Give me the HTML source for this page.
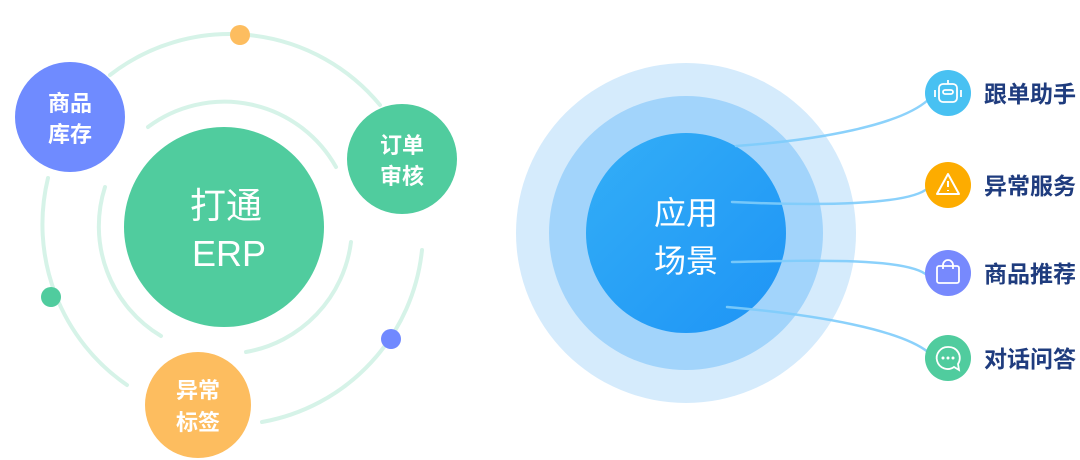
<!DOCTYPE html>
<html><head><meta charset="utf-8"><style>
html,body{margin:0;padding:0;background:#fff;width:1080px;height:460px;overflow:hidden}
svg{display:block}
text{font-family:"Liberation Sans","Noto Sans CJK SC",sans-serif}
</style></head><body>
<svg width="1080" height="460" viewBox="0 0 1080 460">
<defs>
<linearGradient id="g1" x1="0" y1="0" x2="1" y2="1"><stop offset="0" stop-color="#33aef7"/><stop offset="1" stop-color="#1e94f5"/></linearGradient>
</defs>
<g fill="none" stroke="#d6f3e8" stroke-width="4" stroke-linecap="round">
<path d="M110 75 A195 195 0 0 1 380 105"/>
<path d="M48 178 A195 195 0 0 0 127 385"/>
<path d="M422 250 A195 195 0 0 1 262 422"/>
<path d="M148 127 A128 128 0 0 1 336 167"/>
<path d="M105 187 A128 128 0 0 0 161 336"/>
<path d="M351 242 A128 128 0 0 1 246 352"/>
</g>
<circle cx="224" cy="227" r="100" fill="#50cc9e"/>
<text x="226" y="218" font-size="36" fill="#fff" text-anchor="middle">打通</text>
<text x="229" y="266" font-size="36" fill="#fff" text-anchor="middle">ERP</text>
<circle cx="70" cy="117" r="55" fill="#6f8bff"/>
<text x="70" y="111" font-size="22" font-weight="bold" fill="#fff" text-anchor="middle">商品</text>
<text x="70" y="142" font-size="22" font-weight="bold" fill="#fff" text-anchor="middle">库存</text>
<circle cx="402" cy="159" r="55" fill="#50cc9e"/>
<text x="402" y="153" font-size="22" font-weight="bold" fill="#fff" text-anchor="middle">订单</text>
<text x="402" y="184" font-size="22" font-weight="bold" fill="#fff" text-anchor="middle">审核</text>
<circle cx="198" cy="405" r="53" fill="#fdbd5f"/>
<text x="198" y="398" font-size="22" font-weight="bold" fill="#fff" text-anchor="middle">异常</text>
<text x="198" y="430" font-size="22" font-weight="bold" fill="#fff" text-anchor="middle">标签</text>
<circle cx="240" cy="35" r="10" fill="#fdbd5f"/>
<circle cx="51" cy="297" r="10" fill="#50cc9e"/>
<circle cx="391" cy="339" r="10" fill="#7089ff"/>

<circle cx="686" cy="233" r="170" fill="#d5ebfc"/>
<circle cx="686" cy="233" r="137" fill="#a2d4fb"/>
<circle cx="686" cy="233" r="100" fill="url(#g1)"/>
<text x="686" y="224" font-size="32" fill="#fff" text-anchor="middle">应用</text>
<text x="686" y="272" font-size="32" fill="#fff" text-anchor="middle">场景</text>
<g fill="none" stroke="#7fcdfb" stroke-width="2.5" stroke-linecap="round" opacity="0.9">
<path d="M736 146 C820 140 900 125 928 100"/>
<path d="M732 202 C820 206 910 205 928 188"/>
<path d="M732 262 C820 260 910 258 928 276"/>
<path d="M727 307 C820 315 900 330 928 352"/>
</g>
<circle cx="948" cy="93" r="23" fill="#48c1f2"/>
<g fill="none" stroke="#fff" stroke-width="1.8"><rect x="939" y="84" width="18" height="18" rx="4"/><rect x="943" y="90" width="10" height="4" rx="2"/><path d="M948 84v-4M935 90v7M961 90v7"/></g>
<circle cx="948" cy="185" r="23" fill="#fdac00"/>
<g fill="none" stroke="#fff" stroke-width="2" stroke-linejoin="round"><path d="M948 174 L959 194 L937 194 Z"/><path d="M948 181v6M948 190v1"/></g>
<circle cx="948" cy="273" r="23" fill="#7789fd"/>
<g fill="none" stroke="#fff" stroke-width="1.8"><rect x="937" y="266" width="22" height="17" rx="2"/><path d="M943 269v-4a5 5 0 0 1 10 0v4"/></g>
<circle cx="948" cy="358" r="23" fill="#50cc9e"/>
<g fill="none" stroke="#fff" stroke-width="1.8"><path d="M948 347a11 11 0 1 0 6 20l5 3-1-6a11 11 0 0 0-10-17z"/></g>
<g fill="#fff"><circle cx="943" cy="358" r="1.5"/><circle cx="948" cy="358" r="1.5"/><circle cx="953" cy="358" r="1.5"/></g>
<g font-size="23" font-weight="bold" fill="#1f3c7e">
<text x="984" y="102">跟单助手</text>
<text x="984" y="194">异常服务</text>
<text x="984" y="282">商品推荐</text>
<text x="984" y="367">对话问答</text>
</g>
</svg>
</body></html>
